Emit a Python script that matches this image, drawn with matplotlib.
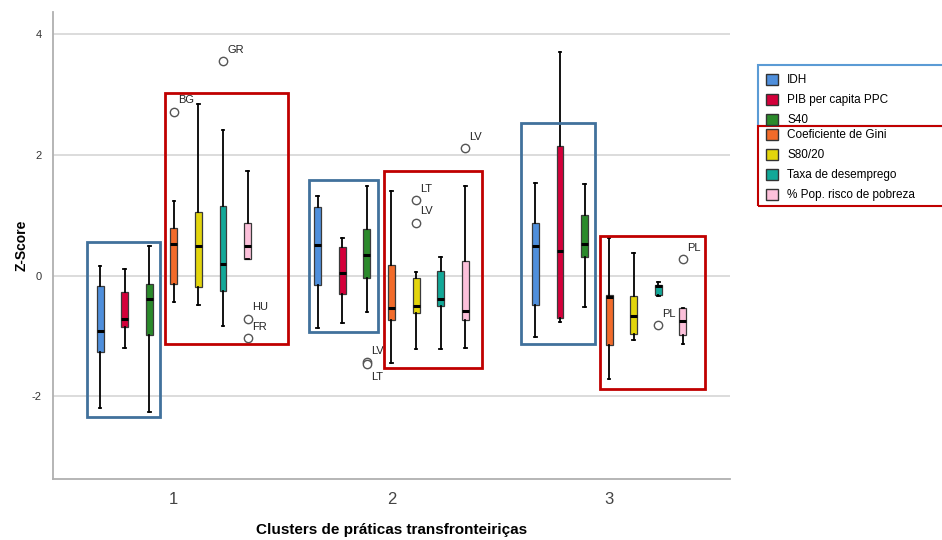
import matplotlib
matplotlib.use("Agg")
import matplotlib.pyplot as plt
from matplotlib.patches import Rectangle, Patch

plt.rcParams['font.family'] = ['Liberation Sans', 'DejaVu Sans']
plt.rcParams['axes.unicode_minus'] = False

# cluster labels and variables
clusters = [1, 2, 3]
variables = ['IDH', 'PIB per capita PPC', 'S40', 'Coeficiente de Gini',
             'S80/20', 'Taxa de desemprego', '% Pop. risco de pobreza']
colors = ['#4f8fdc', '#d4003a', '#2b8a2b', '#f26b2a', '#e3d50c', '#12a898', '#fcc0da']

# per cluster: [whisker low, Q1, median, Q3, whisker high]
idh = [[-2.20, -1.26, -0.91, -0.165, 0.165],
       [-0.86, -0.15, 0.51, 1.13, 1.32],
       [-1.01, -0.49, 0.49, 0.88, 1.53]]
pib = [[-1.20, -0.85, -0.71, -0.27, 0.11],
       [-0.79, -0.30, 0.04, 0.48, 0.63],
       [-0.76, -0.70, 0.41, 2.15, 3.70]]
s40 = [[-2.26, -0.99, -0.39, -0.13, 0.49],
       [-0.60, -0.04, 0.35, 0.78, 1.48],
       [-0.52, 0.31, 0.53, 1.00, 1.52]]
gini = [[-0.44, -0.14, 0.52, 0.79, 1.24],
        [-1.45, -0.73, -0.53, 0.18, 1.40],
        [-1.72, -1.15, -0.35, -0.32, 0.62]]
s8020 = [[-0.48, -0.19, 0.49, 1.05, 2.85],
         [-1.21, -0.62, -0.51, -0.04, 0.06],
         [-1.06, -0.97, -0.67, -0.33, 0.38]]
desemprego = [[-0.83, -0.26, 0.19, 1.15, 2.42],
              [-1.22, -0.50, -0.38, 0.07, 0.31],
              [-0.33, -0.32, -0.17, -0.155, -0.11]]
pobreza = [[0.27, 0.27, 0.49, 0.87, 1.74],
           [-1.20, -0.74, -0.59, 0.25, 1.48],
           [-1.13, -0.98, -0.75, -0.54, -0.54]]
series = [idh, pib, s40, gini, s8020, desemprego, pobreza]

# outliers: (cluster, variable index, value, country)
outliers = [(1, 3, 2.72, 'BG'), (1, 5, 3.55, 'GR'), (1, 6, -0.71, 'HU'), (1, 6, -1.03, 'FR'),
            (2, 2, -1.43, 'LV'), (2, 2, -1.47, 'LT'), (2, 4, 1.26, 'LT'), (2, 4, 0.88, 'LV'),
            (2, 6, 2.11, 'LV'), (3, 5, -0.82, 'PL'), (3, 6, 0.27, 'PL')]

# highlight frames: (colour, x0, x1, y0, y1) in data units
frames = [('#41719c', 0.600, 0.937, -2.34, 0.56),
          ('#c00000', 0.959, 1.523, -1.13, 3.02),
          ('#41719c', 1.621, 1.940, -0.93, 1.58),
          ('#c00000', 1.964, 2.414, -1.53, 1.74),
          ('#41719c', 2.596, 2.937, -1.13, 2.53),
          ('#c00000', 2.956, 3.439, -1.88, 0.65)]

step = 0.113

fig = plt.figure(figsize=(9.42, 5.4), dpi=100)
ax = fig.add_axes([53/942, 61/540, 677/942, 467/540])

for j, var in enumerate(series):
    stats = []
    pos = []
    for ci, c in enumerate(clusters):
        lo, q1, med, q3, hi = var[ci]
        fl = [o[2] for o in outliers if o[0] == c and o[1] == j]
        stats.append(dict(whislo=lo, q1=q1, med=med, q3=q3, whishi=hi, fliers=fl))
        pos.append(c + (j - 3) * step)
    ax.bxp(stats, positions=pos, widths=0.032, patch_artist=True, capwidths=0.012,
           boxprops=dict(facecolor=colors[j], edgecolor='#3a3a3a', linewidth=0.9),
           medianprops=dict(color='black', linewidth=2.2),
           whiskerprops=dict(color='black', linewidth=1.3),
           capprops=dict(color='black', linewidth=1.3),
           flierprops=dict(marker='o', markerfacecolor='white', markeredgecolor='#555555',
                           markersize=6, markeredgewidth=1))

for c, j, v, lab in outliers:
    x = c + (j - 3) * step
    dy = -9 if (lab == 'LT' and j == 2) else 8
    ax.annotate(lab, (x, v), xytext=(3, dy), textcoords='offset points',
                fontsize=8, ha='left', va='center', color='#222222')

for col, x0, x1, y0, y1 in frames:
    ax.add_patch(Rectangle((x0, y0), x1 - x0, y1 - y0, fill=False,
                           edgecolor=col, linewidth=2, zorder=5, clip_on=False))

ax.set_xlim(0.445, 3.555)
ax.set_ylim(-3.37, 4.37)
ax.set_yticks([-2, 0, 2, 4])
ax.set_xticks(clusters)
ax.set_xticklabels([str(c) for c in clusters])
ax.tick_params(axis='y', length=0, labelsize=8, labelcolor='#333333', pad=8)
ax.tick_params(axis='x', length=0, labelsize=12, labelcolor='#444444', pad=9)
ax.yaxis.grid(True, color='#d9d9d9', linewidth=1.3)
ax.set_axisbelow(True)
for s in ['top', 'right']:
    ax.spines[s].set_visible(False)
for s in ['left', 'bottom']:
    ax.spines[s].set_color('#b0b0b0')
    ax.spines[s].set_linewidth(1.3)

ax.set_ylabel('Z-Score', fontsize=10, fontweight='bold', labelpad=2)
ax.set_xlabel('Clusters de práticas transfronteiriças', fontsize=11,
              fontweight='bold', labelpad=12)

# legend split into the two groups, each with its own frame
handles = [Patch(facecolor=colors[j], edgecolor='#333333', label=variables[j])
           for j in range(len(variables))]
leg_kw = dict(loc='upper left', frameon=False, fontsize=8.5, handlelength=1.0,
              handleheight=1.0, handletextpad=0.8, labelspacing=0.65,
              borderaxespad=0, borderpad=0)
fig.legend(handles=handles[:3], bbox_to_anchor=(766/942, 1 - 74/540), **leg_kw)
fig.legend(handles=handles[3:], bbox_to_anchor=(766/942, 1 - 129/540), **leg_kw)
fig.patches.append(Rectangle((758/942, 1 - 126/540), 0.3, 61/540, fill=False,
                             edgecolor='#5b9bd5', linewidth=1.5, transform=fig.transFigure))
fig.patches.append(Rectangle((758/942, 1 - 206/540), 0.3, 80/540, fill=False,
                             edgecolor='#c00000', linewidth=1.5, transform=fig.transFigure))

fig.savefig('out.png', dpi=100)
